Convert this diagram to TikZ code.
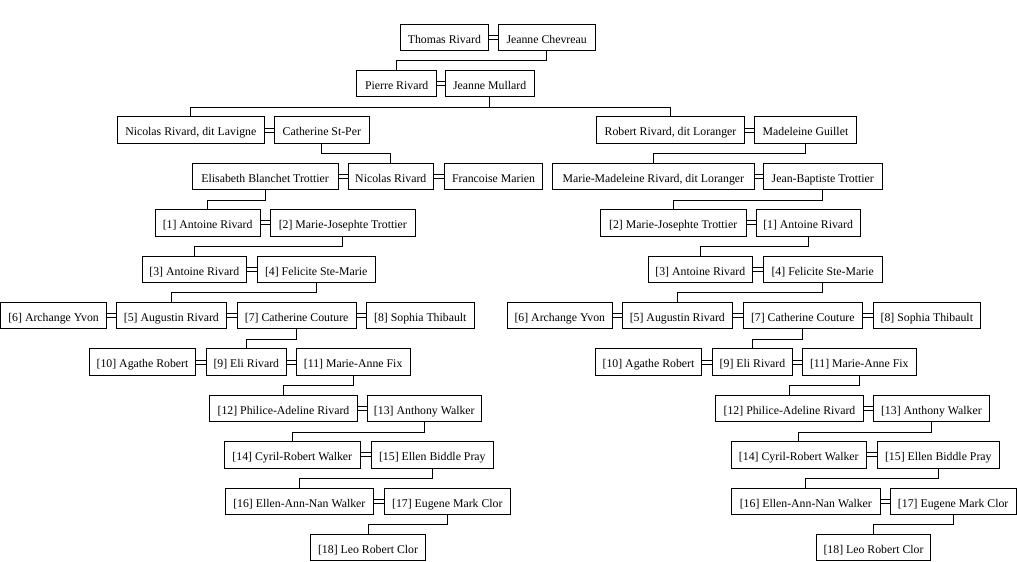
\documentclass[tikz,border=0pt]{standalone}
\usepackage{fontspec}
\setmainfont{Liberation Serif}
\begin{document}
\begin{tikzpicture}[x=1pt,y=-1pt,
  fambox/.style={draw,rectangle,line width=1pt,inner sep=0pt,minimum height=26.5pt,
    text height=12pt,text depth=0.2pt,
    font=\fontsize{11.8}{13}\selectfont,anchor=center},
  descent/.style={draw,line width=1pt},
  spouse/.style={draw,line width=1pt}]
\useasboundingbox (0,0) rectangle (1017,562);
\newcommand\fb[5]{\node[fambox,minimum width={#3-#2}] (#1) at ({(#2+#3)/2},{37.25+(#4-1)*46.4}) {#5};}
\newcommand\wed[2]{\draw[spouse] ([yshift=2pt]#1.east) -- ([yshift=2pt]#2.west);
  \draw[spouse] ([yshift=-2pt]#1.east) -- ([yshift=-2pt]#2.west);}
\newcommand\kid[2]{\draw[descent] (#1.south) -- ++(0,9.95) -| (#2.north);}
% row 1
\fb{t1}{400}{488.7}{1}{Thomas Rivard}
\fb{t2}{498}{595.3}{1}{Jeanne Chevreau}
% row 2
\fb{p1}{356.7}{436.7}{2}{Pierre Rivard}
\fb{p2}{445.3}{534}{2}{Jeanne Mullard}
% row 3
\fb{a1}{117.3}{264.3}{3}{Nicolas Rivard, dit Lavigne}
\fb{a2}{274.3}{369.3}{3}{Catherine St-Per}
\fb{b1}{596.3}{744.7}{3}{Robert Rivard, dit Loranger}
\fb{b2}{754.3}{856.7}{3}{Madeleine Guillet}
% row 4
\fb{a3}{192.3}{338}{4}{Elisabeth Blanchet Trottier}
\fb{a4}{348.3}{433.3}{4}{Nicolas Rivard}
\fb{a5}{444.3}{542.7}{4}{Francoise Marien}
\fb{b3}{552.7}{754}{4}{Marie-Madeleine Rivard, dit Loranger}
\fb{b4}{763.3}{882.3}{4}{Jean-Baptiste Trottier}
% row 5
\fb{a6}{155}{260.3}{5}{[1] Antoine Rivard}
\fb{a7}{270.3}{415.3}{5}{[2] Marie-Josephte Trottier}
\fb{b5}{600.3}{746}{5}{[2] Marie-Josephte Trottier}
\fb{b6}{756.3}{860}{5}{[1] Antoine Rivard}
% row 6
\fb{a8}{142.3}{246.3}{6}{[3] Antoine Rivard}
\fb{a9}{257}{375.3}{6}{[4] Felicite Ste-Marie}
\fb{b7}{648.3}{752.3}{6}{[3] Antoine Rivard}
\fb{b8}{763.3}{882}{6}{[4] Felicite Ste-Marie}
% row 7
\fb{a10}{0.5}{106.7}{7}{[6] Archange Yvon}
\fb{a11}{116}{226.7}{7}{[5] Augustin Rivard}
\fb{a12}{237}{356.3}{7}{[7] Catherine Couture}
\fb{a13}{366.3}{474.3}{7}{[8] Sophia Thibault}
\fb{b9}{507.3}{612.3}{7}{[6] Archange Yvon}
\fb{b10}{622.3}{732.3}{7}{[5] Augustin Rivard}
\fb{b11}{743.3}{862.3}{7}{[7] Catherine Couture}
\fb{b12}{873.3}{980.3}{7}{[8] Sophia Thibault}
% row 8
\fb{a14}{89.3}{195.7}{8}{[10] Agathe Robert}
\fb{a15}{206.3}{286.3}{8}{[9] Eli Rivard}
\fb{a16}{296}{410.3}{8}{[11] Marie-Anne Fix}
\fb{b13}{595.7}{701.3}{8}{[10] Agathe Robert}
\fb{b14}{712.3}{792.7}{8}{[9] Eli Rivard}
\fb{b15}{802.3}{916.3}{8}{[11] Marie-Anne Fix}
% row 9
\fb{a17}{209.3}{357.7}{9}{[12] Philice-Adeline Rivard}
\fb{a18}{367.3}{481.3}{9}{[13] Anthony Walker}
\fb{b16}{715.3}{863.7}{9}{[12] Philice-Adeline Rivard}
\fb{b17}{873}{989.7}{9}{[13] Anthony Walker}
% row 10
\fb{a19}{224.3}{360.3}{10}{[14] Cyril-Robert Walker}
\fb{a20}{371.3}{493.3}{10}{[15] Ellen Biddle Pray}
\fb{b18}{731.3}{866.3}{10}{[14] Cyril-Robert Walker}
\fb{b19}{877.3}{999.3}{10}{[15] Ellen Biddle Pray}
% row 11
\fb{a21}{225.3}{373.3}{11}{[16] Ellen-Ann-Nan Walker}
\fb{a22}{384.3}{510.3}{11}{[17] Eugene Mark Clor}
\fb{b20}{731.3}{880.3}{11}{[16] Ellen-Ann-Nan Walker}
\fb{b21}{890.3}{1016}{11}{[17] Eugene Mark Clor}
% row 12
\fb{a23}{310.3}{425.7}{12}{[18] Leo Robert Clor}
\fb{b22}{816.3}{930.7}{12}{[18] Leo Robert Clor}
% marriages
\wed{t1}{t2}\wed{p1}{p2}
\wed{a1}{a2}\wed{b1}{b2}
\wed{a3}{a4}\wed{a4}{a5}\wed{b3}{b4}
\wed{a6}{a7}\wed{b5}{b6}
\wed{a8}{a9}\wed{b7}{b8}
\wed{a10}{a11}\wed{a11}{a12}\wed{a12}{a13}
\wed{b9}{b10}\wed{b10}{b11}\wed{b11}{b12}
\wed{a14}{a15}\wed{a15}{a16}\wed{b13}{b14}\wed{b14}{b15}
\wed{a17}{a18}\wed{b16}{b17}
\wed{a19}{a20}\wed{b18}{b19}
\wed{a21}{a22}\wed{b20}{b21}
% descent
\kid{t2}{p1}
\kid{p2}{a1}\kid{p2}{b1}
\kid{a2}{a4}\kid{b2}{b3}
\kid{a3}{a6}\kid{b4}{b5}
\kid{a7}{a8}\kid{b6}{b7}
\kid{a9}{a11}\kid{b8}{b10}
\kid{a12}{a15}\kid{b11}{b14}
\kid{a16}{a17}\kid{b15}{b16}
\kid{a18}{a19}\kid{b17}{b18}
\kid{a20}{a21}\kid{b19}{b20}
\kid{a22}{a23}\kid{b21}{b22}
\end{tikzpicture}
\end{document}
